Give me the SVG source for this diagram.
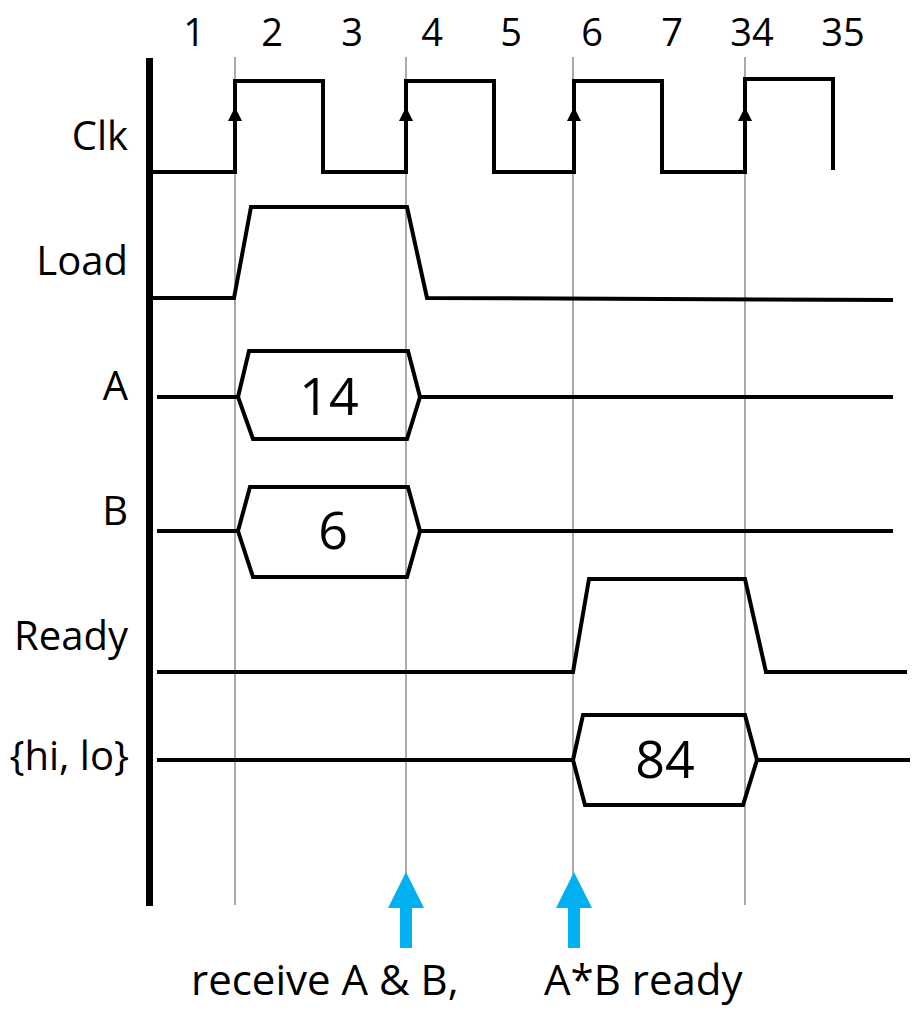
<svg xmlns="http://www.w3.org/2000/svg" width="912" height="1009" viewBox="0 0 912 1009">
  <style>
    .lbl { font-family: "Open Sans", "Liberation Sans", sans-serif; font-size: 40px; fill: #000; }
    .cap { font-family: "Open Sans", "Liberation Sans", sans-serif; font-size: 42px; fill: #000; }
    .num { font-family: "Open Sans", "Liberation Sans", sans-serif; font-size: 38px; fill: #000; text-anchor: middle; }
    .val { font-family: "Open Sans", "Liberation Sans", sans-serif; font-size: 52px; fill: #000; text-anchor: middle; }
    .wave { fill: none; stroke: #000; stroke-width: 4; stroke-linejoin: miter; }
    .grid { stroke: #aaaaaa; stroke-width: 2; }
    .cue { fill: #00b0f0; }
  </style>
  <defs>
    <polygon id="edge" points="0,-14 -7,0 7,0" fill="#000"/>
  </defs>

  <rect width="912" height="1009" fill="#fff"/>

  <!-- cycle numbers -->
  <g id="cycles">
    <text class="num" x="194" y="46">1</text>
    <text class="num" x="272" y="46">2</text>
    <text class="num" x="352" y="46">3</text>
    <text class="num" x="432" y="46">4</text>
    <text class="num" x="511" y="46">5</text>
    <text class="num" x="592" y="46">6</text>
    <text class="num" x="672" y="46">7</text>
    <text class="num" x="752" y="46">34</text>
    <text class="num" x="843" y="46">35</text>
  </g>

  <!-- reference lines at the rising clock edges -->
  <g id="connectors">
    <line class="grid" x1="235" y1="57" x2="235" y2="905"/>
    <line class="grid" x1="406" y1="57" x2="406" y2="905"/>
    <line class="grid" x1="573" y1="57" x2="573" y2="905"/>
    <line class="grid" x1="745" y1="57" x2="745" y2="905"/>
  </g>

  <!-- time axis -->
  <rect id="axis" x="146" y="58" width="7" height="848" fill="#000"/>

  <g id="clk">
    <text class="lbl" x="128" y="150" text-anchor="end">Clk</text>
    <path class="wave" d="M153,172 H235 V81 H323 V172 H406 V81 H494 V172 H574 V81 H662 V172 H745 V79 H833 V170"/>
    <use href="#edge" x="235" y="121"/>
    <use href="#edge" x="406" y="121"/>
    <use href="#edge" x="574" y="121"/>
    <use href="#edge" x="745" y="121"/>
  </g>

  <g id="load">
    <text class="lbl" x="128" y="275" text-anchor="end">Load</text>
    <path class="wave" d="M153,298 H234 L251,207 H407 L427,298 L893,300"/>
  </g>

  <g id="a">
    <text class="lbl" x="128" y="400" text-anchor="end">A</text>
    <path class="wave" d="M157,397 H238 M420,397 H893"/>
    <polygon class="wave" points="238,397 249,351 408,351 420,397 407,439 253,439"/>
    <text class="val" x="329" y="415">14</text>
  </g>

  <g id="b">
    <text class="lbl" x="128" y="525" text-anchor="end">B</text>
    <path class="wave" d="M157,531 H238 M420,531 H893"/>
    <polygon class="wave" points="238,531 250,487 408,487 420,531 407,577 253,577"/>
    <text class="val" x="333" y="549">6</text>
  </g>

  <g id="ready">
    <text class="lbl" x="128" y="650" text-anchor="end">Ready</text>
    <path class="wave" d="M157,672 H573 L589,579 H745 L766,672 H907"/>
  </g>

  <g id="hilo">
    <text class="lbl" x="129" y="770" text-anchor="end">{hi, lo}</text>
    <path class="wave" d="M157,760 H573 M757,760 H910"/>
    <polygon class="wave" points="573,760 583,715 745,715 757,760 743,805 585,805"/>
    <text class="val" x="665" y="778">84</text>
  </g>

  <!-- event markers -->
  <g id="recv">
    <polygon class="cue" points="406,872 388,908 400,908 400,948 412,948 412,908 424,908"/>
    <text class="cap" x="191" y="995">receive A &amp; B,</text>
  </g>
  <g id="done">
    <polygon class="cue" points="574,872 556,908 568,908 568,948 580,948 580,908 592,908"/>
    <text class="cap" x="544" y="995">A*B ready</text>
  </g>
</svg>
